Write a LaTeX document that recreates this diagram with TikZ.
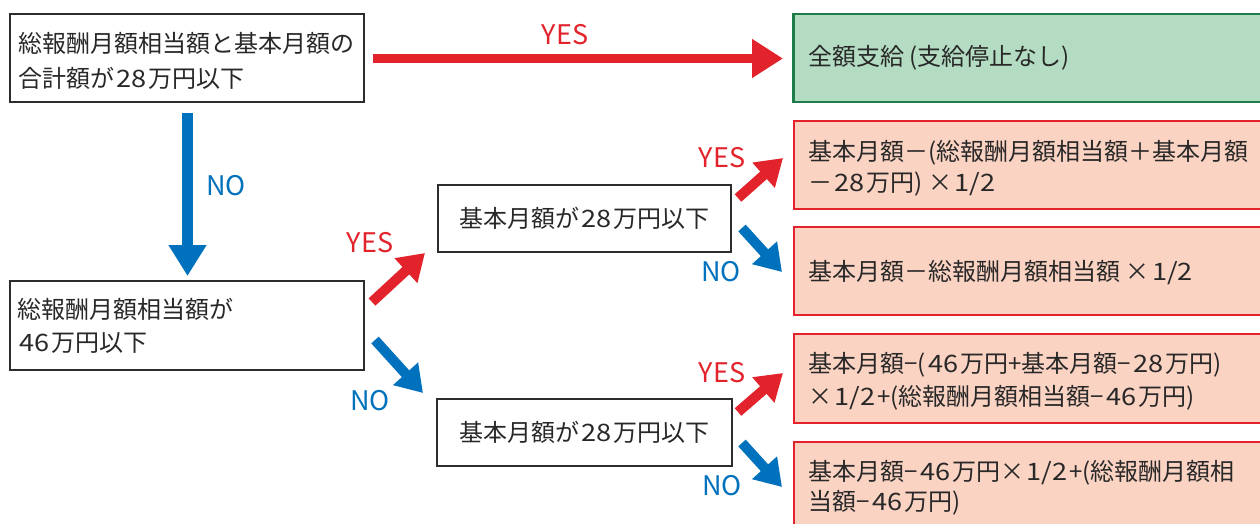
\documentclass[tikz,border=0pt]{standalone}
\usepackage{fontspec}
\setmainfont{Noto Sans CJK JP}
\newfontfamily\digfont{Noto Sans CJK JP}[FakeStretch=1.13]
\newcommand\dg[1]{\kern2.5pt{\digfont #1}\kern2pt}
\usetikzlibrary{arrows.meta}
\definecolor{ared}{RGB}{227,35,43}
\definecolor{ablue}{RGB}{0,113,188}
\definecolor{gfill}{RGB}{179,220,194}
\definecolor{gline}{RGB}{30,123,74}
\definecolor{rfill}{RGB}{251,211,195}
\definecolor{txt}{RGB}{40,40,40}
\definecolor{bline}{RGB}{45,45,45}
\tikzset{
  base/.style={font=\fontsize{24pt}{33pt}\selectfont, text=txt},
  tline/.style={base, align=left, anchor=west, inner sep=0pt},
  tmid/.style={base, align=center, inner sep=0pt},
  decision/.style={draw=bline, line width=2.7pt, fill=white},
  result/.style={draw=ared, fill=rfill, line width=2.5pt, minimum width=496pt},
  fat/.style={line width=10pt, -{Triangle[width=32pt,length=26pt]}},
  bigfat/.style={-{Triangle[width=37pt,length=31pt]}},
  ylab/.style={font=\fontsize{27pt}{27pt}\selectfont, text=ared},
  nlab/.style={font=\fontsize{27pt}{27pt}\selectfont, text=ablue}
}
\begin{document}
\begin{tikzpicture}[x=1pt,y=-1pt]
\useasboundingbox (0,0) rectangle (1260,523);
\clip (0,0) rectangle (1260,523);
\fill[white] (0,0) rectangle (1260,523);

% decision boxes
\node[decision, minimum width=354pt, minimum height=88pt] (q1) at (187,58) {};
\node[decision, minimum width=354pt, minimum height=89pt] (q2) at (187,325.5) {};
\node[decision, minimum width=293pt, minimum height=67pt] (q3) at (584.5,218.5) {};
\node[decision, minimum width=295pt, minimum height=67pt] (q4) at (584.5,432.5) {};

% result boxes
\node[draw=gline, fill=gfill, line width=2.5pt, minimum width=496pt, minimum height=88pt] (r0) at (1041.5,58) {};
\node[result, minimum height=88pt] (ra) at (1042,165) {};
\node[result, minimum height=88pt] (rb) at (1042,271) {};
\node[result, minimum height=89pt] (rc) at (1042,378.5) {};
\node[result, minimum height=93pt] (rd) at (1042,488.5) {};

% texts
\node[tline, font=\fontsize{24pt}{35pt}\selectfont] (q1t) at (18,60.5)
  {総報酬月額相当額と基本月額の\\合計額が\dg{28}万円以下};
\node[tline] (q2t) at (17,325.5)
  {総報酬月額相当額が\\\dg{46}万円以下};
\node[tmid] (q3t) at (584.5,218) {基本月額が\dg{28}万円以下};
\node[tmid] (q4t) at (584.5,432) {基本月額が\dg{28}万円以下};
\node[tline] (r0t) at (808,58) {全額支給 (支給停止なし)};
\node[tline, font=\fontsize{24pt}{31pt}\selectfont] (rat) at (808,168.5)
  {基本月額－(総報酬月額相当額＋基本月額\\－\dg{28}万円) ×\dg{1/2}};
\node[tline] (rbt) at (808,273) {基本月額－総報酬月額相当額 ×\dg{1/2}};
\node[tline] (rct) at (808,381)
  {基本月額−(\dg{46}万円+基本月額−\dg{28}万円)\\×\dg{1/2}+(総報酬月額相当額−\dg{46}万円)};
\node[tline, font=\fontsize{24pt}{30pt}\selectfont] (rdt) at (808,488)
  {基本月額−\dg{46}万円×\dg{1/2}+(総報酬月額相\\当額−\dg{46}万円)};

% arrow end points
\coordinate (t0) at (373,58.5);   \coordinate (h0) at (783,58.5);
\coordinate (t1) at (187.5,113);  \coordinate (h1) at (187.5,276);
\coordinate (t2) at (372,302);    \coordinate (h2) at (425,253);
\coordinate (t3) at (375,340);    \coordinate (h3) at (423,393);
\coordinate (t4) at (738,198);    \coordinate (h4) at (783,158);
\coordinate (t5) at (742,228);    \coordinate (h5) at (782,272);
\coordinate (t6) at (738,412);    \coordinate (h6) at (783,373);
\coordinate (t7) at (742,443);    \coordinate (h7) at (782,487);

\draw[ared, line width=9pt, bigfat] (t0) -- (h0);
\draw[ablue, line width=11pt, -{Triangle[width=36pt,length=31pt]}] (t1) -- (h1);
\draw[ared, fat] (t2) -- (h2);
\draw[ablue, fat] (t3) -- (h3);
\draw[ared, fat] (t4) -- (h4);
\draw[ablue, fat] (t5) -- (h5);
\draw[ared, fat] (t6) -- (h6);
\draw[ablue, fat] (t7) -- (h7);

% labels
\node[ylab] (l0) at (565,35) {YES};
\node[nlab] (l1) at (226,186) {NO};
\node[ylab] (l2) at (370,243) {YES};
\node[nlab] (l3) at (370,401) {NO};
\node[ylab] (l4) at (722,158) {YES};
\node[nlab] (l5) at (721,272) {NO};
\node[ylab] (l6) at (722,373) {YES};
\node[nlab] (l7) at (722,486) {NO};
\end{tikzpicture}
\end{document}
